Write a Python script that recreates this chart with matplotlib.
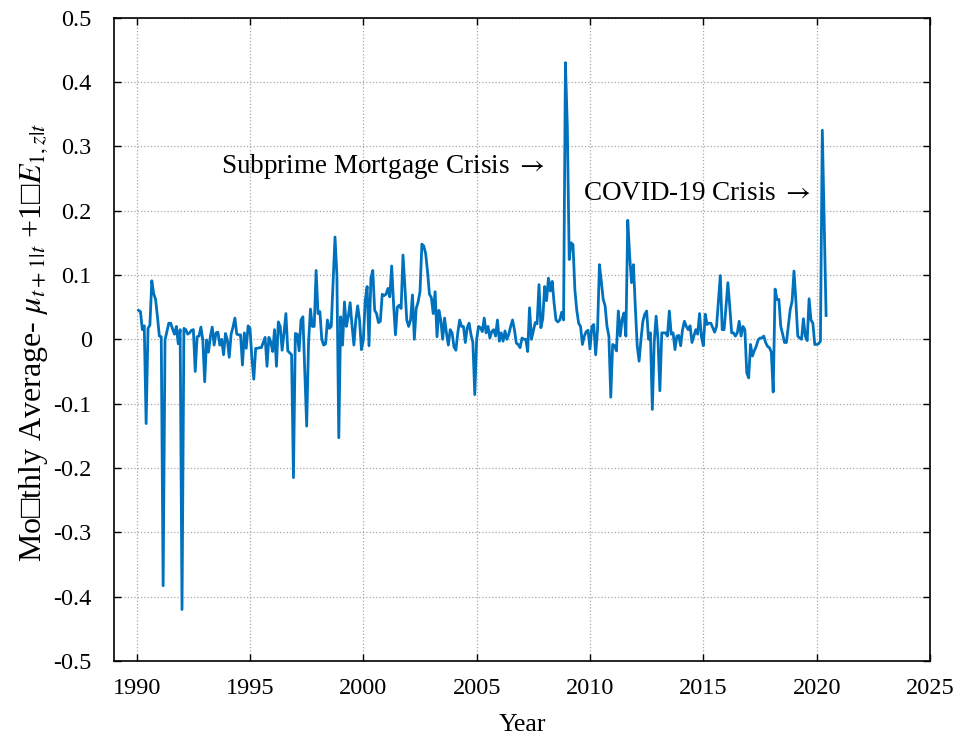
import numpy as np
import matplotlib
matplotlib.use('Agg')
import matplotlib.pyplot as plt

plt.rcParams['font.family'] = ['Liberation Serif', 'DejaVu Serif']
plt.rcParams['mathtext.fontset'] = 'stix'
plt.rcParams['axes.unicode_minus'] = False

# monthly averages, Feb 1990 .. Jun 2020
vals_1990s = [
    0.045, 0.043, 0.015, 0.021, -0.131, 0.017, 0.022, 0.091, 0.071, 0.062, 0.035, 0.005,
    0.004, -0.383, -0.001, 0.012, 0.025, 0.025, 0.016, 0.008, 0.02, -0.007, 0.015, -0.42,
    0.017, 0.015, 0.008, 0.01, 0.014, 0.015, -0.05, 0.004, 0.005, 0.019, -0.001, -0.066,
    -0.001, -0.02, 0.004, 0.019, -0.009, 0.01, 0.011, -0.009, 0.0, -0.024, 0.009, -0.001,
    -0.028, 0.008, 0.019, 0.033, 0.008, 0.007, 0.007, -0.04, 0.01, -0.014, 0.021, 0.017,
    -0.03, -0.062, -0.014, -0.014, -0.013, -0.013, -0.005, 0.003, -0.042, 0.003, -0.004, -0.019,
    0.015, -0.042, 0.027, 0.02, -0.017, 0.01, 0.04, -0.018, -0.021, -0.024, -0.215, 0.009,
    0.008, -0.018, 0.03, 0.035, -0.05, -0.135, -0.005, 0.047, 0.02, 0.02, 0.107, 0.04,
    0.043, 0.0, -0.009, -0.007, 0.03, 0.017, 0.02, 0.09, 0.159, 0.1, -0.153, 0.035,
    -0.009, 0.058, 0.02, 0.035, 0.057, 0.022, -0.009, 0.03, 0.052, 0.03, -0.016,
]
vals_2000s = [
    -0.001, 0.06, 0.082, -0.01, 0.095, 0.107, 0.045, 0.04, 0.026, 0.028, 0.07, 0.068,
    0.07, 0.079, 0.066, 0.114, 0.055, 0.007, 0.05, 0.053, 0.048, 0.131, 0.082, 0.03,
    0.02, 0.03, 0.069, 0.0, 0.048, 0.058, 0.074, 0.148, 0.145, 0.133, 0.105, 0.07,
    0.065, 0.04, 0.074, 0.004, 0.045, 0.03, 0.0, 0.033, 0.01, -0.009, 0.015, 0.01,
    -0.012, -0.017, 0.01, 0.03, 0.02, 0.02, -0.005, 0.018, 0.025, 0.007, -0.005, -0.086,
    0.0, 0.02, 0.018, 0.012, 0.033, 0.01, 0.02, 0.002, 0.012, 0.015, 0.005, 0.03,
    -0.003, 0.01, -0.003, 0.013, 0.0, 0.008, 0.02, 0.03, 0.015, -0.006, -0.008, -0.013,
    0.002, 0.0, 0.0, -0.019, 0.049, 0.0, 0.013, 0.026, 0.024, 0.085, 0.018, 0.032,
    0.082, 0.06, 0.095, 0.075, 0.09, 0.056, 0.03, 0.027, 0.03, 0.042, 0.03, 0.43,
    0.33, 0.124, 0.15, 0.147, 0.077, 0.045, 0.025, 0.02, -0.008, 0.005, 0.012, 0.014,
]
vals_2010s = [
    -0.015, 0.02, 0.023, -0.024, 0.015, 0.116, 0.09, 0.062, 0.052, 0.02, 0.005, -0.09,
    -0.008, -0.01, -0.018, 0.044, 0.005, 0.031, 0.041, 0.005, 0.185, 0.13, 0.088, 0.116,
    0.05, -0.01, -0.034, 0.0, 0.028, 0.039, 0.044, 0.0, 0.01, -0.109, -0.005, 0.036,
    0.0, -0.08, 0.01, 0.01, 0.01, 0.005, 0.044, 0.008, 0.01, -0.016, 0.005, 0.006,
    -0.01, 0.015, 0.028, 0.02, 0.015, 0.021, -0.005, 0.005, 0.015, 0.008, 0.04, 0.004,
    -0.01, 0.039, 0.023, 0.025, 0.025, 0.018, 0.011, 0.02, 0.06, 0.099, 0.015, 0.015,
    0.05, 0.088, 0.051, 0.01, 0.01, 0.005, 0.01, 0.028, 0.005, 0.02, 0.015, -0.052,
    -0.06, -0.008, -0.026, -0.018, -0.011, -0.001, 0.002, 0.002, 0.005, -0.005, -0.011, -0.013,
    -0.02, -0.082, 0.078, 0.062, 0.062, 0.02, 0.008, -0.005, -0.005, 0.02, 0.046, 0.059,
    0.106, 0.06, 0.005, 0.002, 0.0, 0.032, 0.005, -0.002, 0.063, 0.03, 0.025, -0.008,
]
vals_2020 = [-0.008, -0.007, -0.003, 0.325, 0.18, 0.037]

y_ticks = [-0.5, -0.4, -0.3, -0.2, -0.1, 0, 0.1, 0.2, 0.3, 0.4, 0.5]
y_ticklabels = ['-0.5', '-0.4', '-0.3', '-0.2', '-0.1', '0', '0.1', '0.2', '0.3', '0.4', '0.5']
x_ticks = [1990, 1995, 2000, 2005, 2010, 2015, 2020, 2025]

y = np.array(vals_1990s + vals_2000s + vals_2010s + vals_2020)
t = 1990 + np.arange(1, len(y) + 1) / 12

fig = plt.figure(figsize=(9.63, 7.44), dpi=100)
ax = fig.add_axes([0.1184, 0.1116, 0.8473, 0.8647])

ax.plot(t, y, color='#0072BD', lw=2.0)

ax.set_xlim(1989, 2025)
ax.set_ylim(-0.5, 0.5)
ax.set_xticks(x_ticks)
ax.set_yticks(y_ticks)
ax.set_yticklabels(y_ticklabels)

ax.grid(True, color='#a8a8a8', linestyle=':', lw=0.9)
ax.tick_params(direction='in', length=5, width=1.0, labelsize=17.5,
               top=True, right=True)
ax.tick_params(axis='x', pad=12)
ax.tick_params(axis='y', pad=16)
for s in ax.spines.values():
    s.set_linewidth(1.2)

ax.text(2008.0, 0.268, r'Subprime Mortgage Crisis $\rightarrow$',
        ha='right', va='center', fontsize=19.5)
ax.text(2009.7, 0.226, r'COVID-19 Crisis $\rightarrow$',
        ha='left', va='center', fontsize=19.5)

ax.set_xlabel('Year', fontsize=18.5, labelpad=11)
fig.text(0.035, 0.54, 'Mo□thly Average- $\\mu_{t+1|t}$ +1□$E_{1,z|t}$',
         rotation=90, ha='center', va='center', fontsize=23)

fig.savefig('out.png', dpi=100)
